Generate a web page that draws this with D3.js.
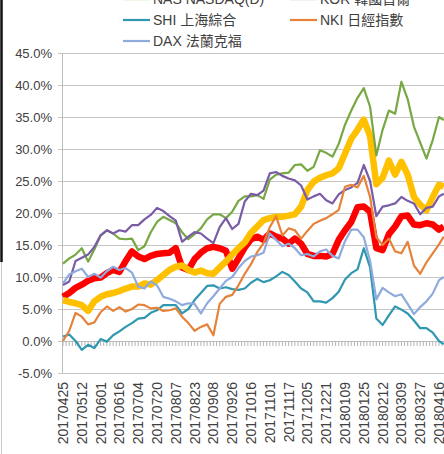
<!DOCTYPE html>
<html>
<head>
<meta charset="utf-8">
<script src="https://cdn.jsdelivr.net/npm/d3@7"></script>
<style>
body{margin:0;background:#fff;overflow:hidden;}
svg{display:block;font-family:"Liberation Sans","Noto Sans CJK TC",sans-serif;}
</style>
</head>
<body>
<script>
// category index of each sampled trading day (0 = 20170425)
var dayIndex = [0,4,8,12,16,20,24,28,32,36,40,44,48,52,56,60,64,68,72,76,80,84,88,92,96,100,104,108,112,116,
  120,124,128,132,136,140,144,148,152,156,160,164,168,172,176,180,184,188,192,196,200,204,208,212,216,220,224,228,232,236,240,243];

// axis labels, one every 12 categories
var tickLabels = ["20170425","20170512","20170601","20170616","20170704","20170720","20170807","20170823","20170908","20170926",
  "20171016","20171101","20171117","20171205","20171221","20180109","20180125","20180212","20180309","20180327","20180416"];
var yTicks = [-5,0,5,10,15,20,25,30,35,40,45];

// series values in %
var redVals = [6.9,7.5,8.3,8.8,9.4,9.8,9.9,10.6,11.1,10.8,12.5,14.0,13.2,12.8,13.3,13.6,13.7,13.8,14.5,11.5,
  11.1,12.8,13.8,14.5,14.7,14.5,14.1,11.3,12.9,14.6,15.9,16.3,15.8,16.8,16.3,16.0,15.2,16.0,15.2,13.6,
  13.3,13.3,13.2,13.6,15.8,17.3,18.6,20.9,21.0,20.2,14.5,14.2,16.7,17.9,19.5,19.6,18.2,18.1,18.4,18.2,17.4,17.9];
var yellowVals = [6.4,6.1,5.9,5.6,4.7,6.2,6.9,7.3,7.5,7.8,8.2,8.5,8.5,9.0,8.8,9.5,10.3,11.1,11.6,11.8,
  11.1,10.7,11.0,10.6,10.5,11.5,12.4,13.5,14.5,15.4,16.9,17.9,18.9,19.2,19.4,19.4,19.6,19.8,21.0,23.6,
  24.9,25.5,25.9,26.2,27.0,29.3,31.6,33.0,34.6,32.0,24.5,25.5,28.2,26.0,28.0,26.0,22.5,21.3,20.4,22.5,24.4,24.1];
var nasVals = [12.1,12.9,13.5,14.5,12.4,14.3,16.5,17.3,16.8,16.0,15.9,16.0,14.2,14.8,17.0,18.6,19.4,18.9,18.4,17.0,
  15.9,16.7,17.6,19.0,19.8,19.8,19.2,20.2,21.9,22.6,22.6,22.8,22.2,25.2,26.0,26.2,26.3,27.5,27.6,26.6,
  27.2,29.8,29.4,28.8,30.8,33.8,36.0,38.0,39.5,36.6,29.0,33.0,36.0,35.5,40.5,37.8,33.5,31.0,28.5,31.4,35.0,34.5];
var korVals = [8.75,9.3,12.5,13.0,13.5,14.7,16.5,17.3,16.8,17.3,17.1,18.1,18.1,19.0,19.7,20.8,20.3,19.5,18.8,15.5,
  16.3,17.0,16.8,16.0,15.3,17.8,19.2,17.5,18.3,21.8,23.0,22.8,23.5,26.2,26.4,25.8,25.4,25.1,24.3,22.1,
  22.6,23.0,22.0,21.5,22.9,23.6,24.0,24.7,27.5,25.0,19.5,21.0,21.2,21.5,22.5,21.9,21.5,19.8,20.8,21.0,22.6,23.0];
var shiVals = [0.7,1.0,0.0,-1.4,-0.6,-1.1,0.3,-0.1,0.9,1.5,2.2,2.8,3.5,3.6,4.4,4.8,5.6,5.6,5.6,4.3,
  5.0,6.4,7.5,8.6,8.7,8.2,8.4,8.1,8.0,8.2,9.1,9.7,9.2,9.5,10.1,10.8,10.3,9.3,8.2,7.6,
  6.2,6.2,6.0,6.7,7.7,9.6,10.6,11.2,14.5,11.5,3.5,2.5,4.0,5.4,4.9,4.3,3.2,2.0,2.0,1.3,0.0,-0.5];
var nkiVals = [0.0,1.6,4.4,3.8,2.6,2.9,4.5,5.4,4.7,5.3,4.6,5.0,5.7,5.6,5.1,5.2,4.7,4.8,5.1,3.8,
  2.8,1.6,2.2,2.6,0.9,5.8,6.9,7.2,8.7,10.5,12.0,13.9,15.3,17.8,19.5,16.5,17.6,17.3,16.0,17.2,
  18.3,18.8,19.2,19.8,20.5,24.1,24.4,24.0,25.8,22.5,16.2,15.0,16.0,14.0,13.7,15.5,11.8,10.5,12.3,13.7,15.1,16.3];
var daxVals = [9.0,10.4,10.9,11.3,10.0,10.5,9.9,10.9,11.6,11.1,11.4,10.7,8.5,8.2,9.3,8.7,6.9,6.6,6.2,5.6,
  5.9,5.8,4.3,5.9,7.0,8.2,9.4,10.0,11.4,12.5,13.2,13.4,13.8,16.8,15.8,14.8,15.2,14.5,13.4,13.6,
  13.2,14.0,14.3,13.3,12.9,15.6,17.4,17.4,16.2,12.5,6.5,8.3,7.6,7.0,7.3,5.8,4.2,5.3,6.2,7.4,9.5,10.0];

var series = [
  {name:null, vals:redVals, color:"#ff0000", w:6.5},
  {name:null, vals:yellowVals, color:"#ffc000", w:6.5},
  {name:"NAS NASDAQ(D)", vals:nasVals, color:"#77a843", w:2.2},
  {name:"KOR 韓國首爾", vals:korVals, color:"#7a5ba6", w:2.2},
  {name:"SHI 上海綜合", vals:shiVals, color:"#2f97b0", w:2.2},
  {name:"NKI 日經指數", vals:nkiVals, color:"#e6823a", w:2.2},
  {name:"DAX 法蘭克福", vals:daxVals, color:"#8faadc", w:2.2}
];

var W = 444, H = 454;
var svg = d3.select("body").append("svg").attr("width", W).attr("height", H);

var x = d3.scaleLinear().domain([0, 240]).range([63, 439]);
var y = d3.scaleLinear().domain([-5, 45]).range([373, 53]);

// frame artefacts on the left edge
svg.append("line").attr("x1",1.5).attr("x2",1.5).attr("y1",0).attr("y2",262)
  .attr("stroke","#111").attr("stroke-width",2.5);
svg.append("line").attr("x1",1.5).attr("x2",1.5).attr("y1",262).attr("y2",H)
  .attr("stroke","#c8c8c8").attr("stroke-width",1);

// gridlines
svg.append("g").selectAll("line").data(yTicks).enter().append("line")
  .attr("x1", 58).attr("x2", W)
  .attr("y1", function(d){ return Math.round(y(d)) + 0.5; })
  .attr("y2", function(d){ return Math.round(y(d)) + 0.5; })
  .attr("stroke", "#c6c6c6").attr("stroke-width", 1);

// y axis line + labels
svg.append("line").attr("x1",62.5).attr("x2",62.5).attr("y1",y(45)).attr("y2",y(-5))
  .attr("stroke","#bdbdbd");
svg.append("g").selectAll("text").data(yTicks).enter().append("text")
  .attr("x", 52)
  .attr("y", function(d){ return y(d); })
  .attr("dy", "0.36em")
  .attr("text-anchor", "end")
  .attr("font-size", 13)
  .attr("fill", "#404040")
  .text(function(d){ return d.toFixed(1) + "%"; });

// category tick marks along the 0% line
var tickIdx = d3.range(0, 246, 2);
svg.append("g").selectAll("line").data(tickIdx).enter().append("line")
  .attr("x1", function(d){ return x(d); }).attr("x2", function(d){ return x(d); })
  .attr("y1", y(0)).attr("y2", y(0) + 5)
  .attr("stroke", "#b5b5b5").attr("stroke-width", 1);
svg.append("line").attr("x1",63).attr("x2",W).attr("y1",y(0)+0.5).attr("y2",y(0)+0.5)
  .attr("stroke","#bdbdbd");

// x labels, rotated
svg.append("g").selectAll("text").data(tickLabels).enter().append("text")
  .attr("transform", function(d,i){ return "translate(" + x(i*12) + ",382) rotate(-90)"; })
  .attr("text-anchor", "end")
  .attr("dy", "0.36em")
  .attr("font-size", 14)
  .attr("fill", "#404040")
  .text(function(d){ return d; });

// lines
var line = d3.line()
  .x(function(d){ return x(d[0]); })
  .y(function(d){ return y(d[1]); });

svg.append("g").selectAll("path").data(series).enter().append("path")
  .attr("d", function(s){ return line(dayIndex.map(function(di,i){ return [di, s.vals[i]]; })); })
  .attr("fill", "none")
  .attr("stroke", function(s){ return s.color; })
  .attr("stroke-width", function(s){ return s.w; })
  .attr("stroke-linejoin", "round");

// legend (top row is cut off by the picture edge)
var legendItems = series.filter(function(s){ return s.name; });
var leg = svg.append("g").selectAll("g").data(legendItems).enter().append("g")
  .attr("transform", function(d,i){ return "translate(" + (i % 2 ? 290 : 123) + "," + (-1 + Math.floor(i/2)*21) + ")"; });
leg.append("line").attr("x1",0).attr("x2",27).attr("y1",0).attr("y2",0)
  .attr("stroke", function(d){ return d.color; }).attr("stroke-width", 2.2);
leg.append("text").attr("x",30).attr("dy","0.36em")
  .attr("font-size", 14).attr("fill", "#404040")
  .text(function(d){ return d.name; });
</script>
</body>
</html>
